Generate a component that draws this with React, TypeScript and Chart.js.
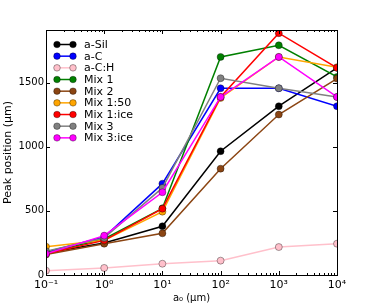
import React, { useEffect, useRef } from "react";
import { Chart, registerables } from "chart.js";

Chart.register(...registerables);

const xValues = [0.1, 1, 10, 100, 1000, 10000];
const seriesLabels = ["a-Sil", "a-C", "a-C:H", "Mix 1", "Mix 2", "Mix 1:50", "Mix 1:ice", "Mix 3", "Mix 3:ice"];
const seriesColors = ["#000000", "#0000ff", "#ffc0cb", "#008000", "#8b4513", "#ffa500", "#ff0000", "#808080", "#ff00ff"];
const aSil = [172, 250, 380, 965, 1316, 1615];
const aC = [180, 296, 712, 1456, 1456, 1316];
const aCH = [34, 55, 88, 112, 218, 244];
const mix1 = [172, 281, 520, 1700, 1791, 1544];
const mix2 = [159, 244, 325, 829, 1251, 1531];
const mix150 = [221, 270, 494, 1380, 1700, 1620];
const mix1ice = [166, 270, 517, 1388, 1885, 1615];
const mix3 = [185, 289, 679, 1534, 1456, 1388];
const mix3ice = [166, 307, 645, 1388, 1700, 1388];
const seriesValues = [aSil, aC, aCH, mix1, mix2, mix150, mix1ice, mix3, mix3ice];

const xTicks = [0.1, 1, 10, 100, 1000, 10000];
const xTickLabels = ["10⁻¹", "10⁰", "10¹", "10²", "10³", "10⁴"];
const yTicks = [0, 500, 1000, 1500];
const yMax = 1910;

const FONT = "'DejaVu Sans', sans-serif";

const framePlugin = {
  id: "frame",
  afterDatasetsDraw(chart: any) {
    const { ctx, chartArea: a, scales } = chart;
    const xs = scales.x;
    const ys = scales.y;
    ctx.save();
    ctx.strokeStyle = "#000";
    ctx.lineWidth = 1;
    ctx.beginPath();
    xTicks.forEach((v) => {
      const px = Math.round(xs.getPixelForValue(v)) + 0.5;
      ctx.moveTo(px, a.bottom);
      ctx.lineTo(px, a.bottom - 4);
      ctx.moveTo(px, a.top);
      ctx.lineTo(px, a.top + 4);
    });
    for (let d = 0.1; d < 10000; d *= 10) {
      for (let k = 2; k <= 9; k++) {
        const px = Math.round(xs.getPixelForValue(k * d)) + 0.5;
        ctx.moveTo(px, a.bottom);
        ctx.lineTo(px, a.bottom - 2);
        ctx.moveTo(px, a.top);
        ctx.lineTo(px, a.top + 2);
      }
    }
    yTicks.forEach((v) => {
      const py = Math.round(ys.getPixelForValue(v)) + 0.5;
      ctx.moveTo(a.left, py);
      ctx.lineTo(a.left + 4, py);
      ctx.moveTo(a.right, py);
      ctx.lineTo(a.right - 4, py);
    });
    ctx.stroke();
    ctx.strokeRect(Math.round(a.left) + 0.5, Math.round(a.top) + 0.5, Math.round(a.right - a.left), Math.round(a.bottom - a.top));

    const ds = chart.data.datasets;
    ds.forEach((d: any, i: number) => {
      const y = 44.5 + i * 11.67;
      ctx.strokeStyle = d.borderColor;
      ctx.lineWidth = 1.5;
      ctx.beginPath();
      ctx.moveTo(57, y);
      ctx.lineTo(73, y);
      ctx.stroke();
      [57, 73].forEach((cx) => {
        ctx.beginPath();
        ctx.arc(cx, y, 3.3, 0, Math.PI * 2);
        ctx.fillStyle = d.pointBackgroundColor;
        ctx.fill();
        ctx.lineWidth = 0.5;
        ctx.strokeStyle = "rgba(0,0,0,0.7)";
        ctx.stroke();
      });
      ctx.fillStyle = "#000";
      ctx.font = `11px ${FONT}`;
      ctx.textBaseline = "middle";
      ctx.textAlign = "left";
      ctx.fillText(d.label, 84, y + 0.5);
    });
    ctx.restore();
  },
};

export default function App() {
  const ref = useRef<HTMLCanvasElement>(null);
  useEffect(() => {
    document.body.style.margin = "0";
    const canvas = ref.current!;
    const datasets = seriesLabels.map((label, i) => ({
      label,
      data: xValues.map((x, j) => ({ x, y: seriesValues[i][j] })),
      borderColor: seriesColors[i],
      backgroundColor: seriesColors[i],
      pointBackgroundColor: seriesColors[i],
      pointBorderColor: "rgba(0,0,0,0.7)",
      pointBorderWidth: 0.5,
      pointRadius: 3.5,
      borderWidth: 1.5,
      order: seriesLabels.length - i,
      clip: 0,
    }));
    const chart = new Chart(canvas, {
      type: "line",
      data: { datasets },
      plugins: [framePlugin],
      options: {
        animation: false,
        responsive: false,
        devicePixelRatio: 1,
        layout: { padding: { top: 30, right: 37, left: 0, bottom: 0 } },
        plugins: { legend: { display: false }, tooltip: { enabled: false } },
        scales: {
          x: {
            type: "logarithmic",
            min: 0.1,
            max: 10000,
            afterBuildTicks: (s: any) => {
              s.ticks = xTicks.map((v) => ({ value: v }));
            },
            afterFit: (s: any) => {
              s.height = 33;
            },
            grid: { display: false, drawTicks: false },
            border: { display: false },
            ticks: {
              autoSkip: false,
              maxRotation: 0,
              padding: 4,
              color: "#000",
              font: { family: FONT, size: 11 },
              callback: (v: any) => {
                const idx = xTicks.findIndex((t) => Math.abs(t - v) / t < 1e-6);
                return idx >= 0 ? xTickLabels[idx] : "";
              },
            },
            title: {
              display: true,
              text: "a₀ (μm)",
              color: "#000",
              font: { family: FONT, size: 10 },
              padding: { top: 0, bottom: 4 },
            },
          },
          y: {
            min: 0,
            max: yMax,
            afterBuildTicks: (s: any) => {
              s.ticks = yTicks.map((v) => ({ value: v }));
            },
            afterFit: (s: any) => {
              s.width = 46;
            },
            grid: { display: false, drawTicks: false },
            border: { display: false },
            ticks: {
              padding: 2,
              color: "#000",
              font: { family: FONT, size: 10 },
              callback: (v: any) => String(v),
            },
            title: {
              display: true,
              text: "Peak position (μm)",
              color: "#000",
              font: { family: FONT, size: 11 },
              padding: { top: 2, bottom: 0 },
            },
          },
        },
      },
    } as any);
    return () => chart.destroy();
  }, []);
  return <canvas ref={ref} width={374} height={308} style={{ display: "block" }} />;
}
